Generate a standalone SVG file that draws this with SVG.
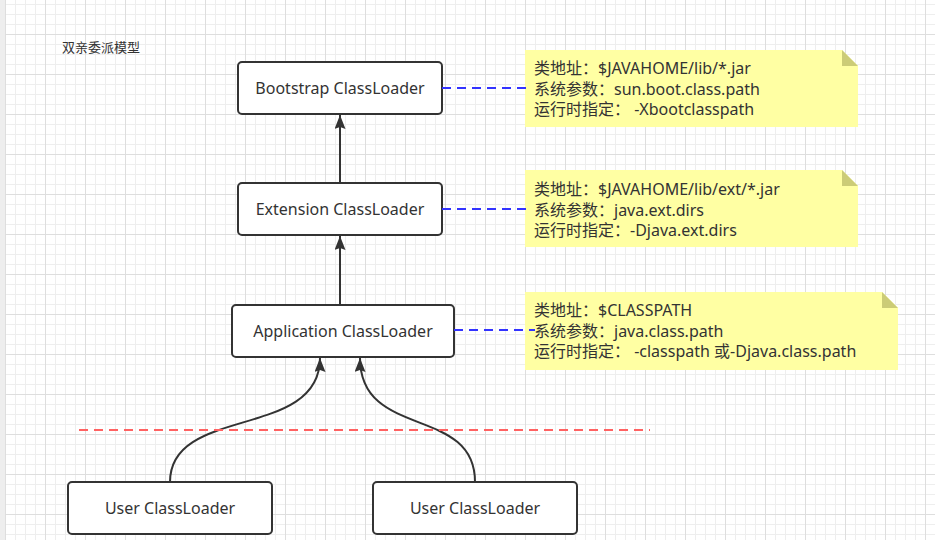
<svg xmlns="http://www.w3.org/2000/svg" width="935" height="540" viewBox="0 0 935 540">
<defs>
<pattern id="minor" x="5" y="4" width="10" height="10" patternUnits="userSpaceOnUse">
<path d="M0,0.5 H10 M0.5,0 V10" fill="none" stroke="#eeeeee" stroke-width="1"/>
</pattern>
<pattern id="major" x="5" y="34" width="40" height="40" patternUnits="userSpaceOnUse">
<path d="M0,0.5 H40 M0.5,0 V40" fill="none" stroke="#dedede" stroke-width="1"/>
</pattern>
<marker id="arr" markerUnits="userSpaceOnUse" markerWidth="18" markerHeight="14" refX="14" refY="5.5" orient="auto">
<path d="M0,0 L14,5.5 L0,11 L2,5.5 z" fill="#333333"/>
</marker>
<style>
.node rect{fill:#ffffff;stroke:#333333;stroke-width:2}
.lbl{font-family:"Noto Sans","Noto Sans CJK SC",sans-serif;font-size:16px;fill:#333333;text-anchor:middle}
.ntxt{font-family:"Noto Sans","Noto Sans CJK SC",sans-serif;font-size:16px;fill:#333333}
.note path.body{fill:#ffffa3}
.note path.fold{fill:#cccc77}
.edge{fill:none;stroke:#333333;stroke-width:2}
.dash{fill:none;stroke:#3333ff;stroke-width:2;stroke-dasharray:9 6}
</style>
</defs>
<rect x="0" y="0" width="935" height="540" fill="#ffffff"/>
<rect x="0" y="0" width="935" height="540" fill="url(#minor)"/>
<rect x="0" y="0" width="935" height="540" fill="url(#major)"/>
<rect x="0" y="0" width="5" height="540" fill="#eeeeee"/>

<text x="62" y="52" font-family="'Noto Sans CJK SC',sans-serif" font-size="13" fill="#333333">双亲委派模型</text>

<g id="note-bootstrap" class="note">
<path class="body" d="M525,50 H842 L858,66 V127 H525 Z"/>
<path class="fold" d="M842,50 L858,66 H842 Z"/>
<text class="ntxt" x="534" y="74">类地址：$JAVAHOME/lib/*.jar</text>
<text class="ntxt" x="534" y="94.5">系统参数：sun.boot.class.path</text>
<text class="ntxt" x="534" y="115">运行时指定：  -Xbootclasspath</text>
</g>
<g id="note-extension" class="note">
<path class="body" d="M525,170 H842 L858,186 V247 H525 Z"/>
<path class="fold" d="M842,170 L858,186 H842 Z"/>
<text class="ntxt" x="534" y="195">类地址：$JAVAHOME/lib/ext/*.jar</text>
<text class="ntxt" x="534" y="215.5">系统参数：java.ext.dirs</text>
<text class="ntxt" x="534" y="236">运行时指定：-Djava.ext.dirs</text>
</g>
<g id="note-application" class="note">
<path class="body" d="M525,292 H882 L898,308 V370 H525 Z"/>
<path class="fold" d="M882,292 L898,308 H882 Z"/>
<text class="ntxt" x="534" y="316">类地址：$CLASSPATH</text>
<text class="ntxt" x="534" y="336.5">系统参数：java.class.path</text>
<text class="ntxt" x="534" y="357">运行时指定：  -classpath 或-Djava.class.path</text>
</g>

<g id="node-bootstrap" class="node">
<rect x="238" y="62" width="204" height="52" rx="4"/>
<text class="lbl" x="340" y="93.5">Bootstrap ClassLoader</text>
</g>
<g id="node-extension" class="node">
<rect x="238" y="183" width="204" height="52" rx="4"/>
<text class="lbl" x="340" y="214.5">Extension ClassLoader</text>
</g>
<g id="node-application" class="node">
<rect x="232" y="305" width="222" height="52" rx="4"/>
<text class="lbl" x="343" y="336.5">Application ClassLoader</text>
</g>
<g id="node-user1" class="node">
<rect x="68" y="482" width="204" height="52" rx="4"/>
<text class="lbl" x="170" y="513.5">User ClassLoader</text>
</g>
<g id="node-user2" class="node">
<rect x="373" y="482" width="204" height="52" rx="4"/>
<text class="lbl" x="475" y="513.5">User ClassLoader</text>
</g>

<g id="connectors">
<path class="edge" d="M340,183 V115" marker-end="url(#arr)"/>
<path class="edge" d="M340,305 V236" marker-end="url(#arr)"/>
<path class="edge" d="M170,482 C170,405 320,440 320,358" marker-end="url(#arr)"/>
<path class="edge" d="M475,482 C475,405 360,440 360,358" marker-end="url(#arr)"/>
<path class="dash" d="M442,88 H530"/>
<path class="dash" d="M442,209 H528"/>
<path class="dash" d="M454,330 H535"/>
<path d="M79,430 H650" fill="none" stroke="#ff6262" stroke-width="2" stroke-dasharray="9 6"/>
</g>
</svg>
